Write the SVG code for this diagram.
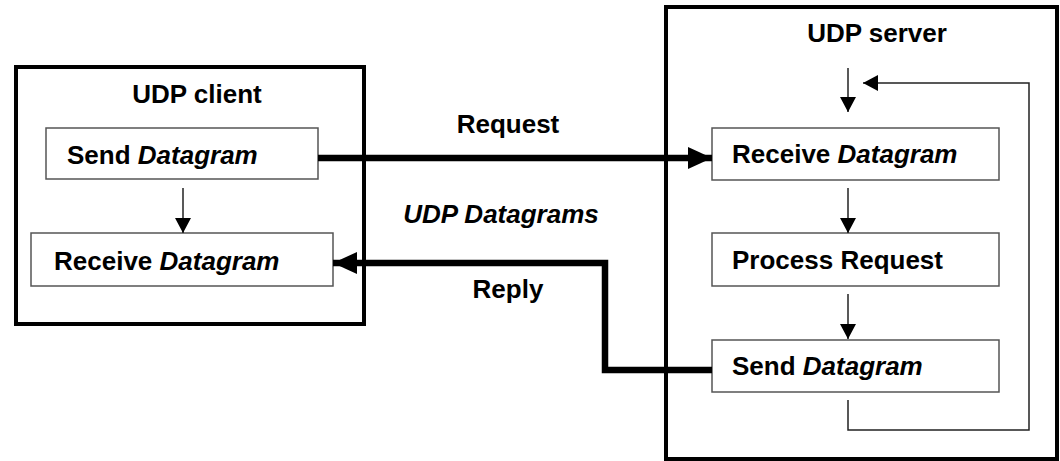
<svg xmlns="http://www.w3.org/2000/svg" width="1060" height="461" viewBox="0 0 1060 461">
<style>
.outer{fill:#fff;stroke:#000;stroke-width:4}
.box{fill:#fff;stroke:#555;stroke-width:1.5}
.t{font-family:"Liberation Sans",Arial,sans-serif;font-weight:bold;font-size:26px;fill:#000}
.i{font-style:italic}
.thin{fill:none;stroke:#222;stroke-width:1.5}
.thick{fill:none;stroke:#000;stroke-width:6.5}
</style>
<defs>
<marker id="ah" markerUnits="userSpaceOnUse" markerWidth="15" markerHeight="16" refX="15" refY="8" orient="auto"><path d="M0,0 L15,8 L0,16 z" fill="#000"/></marker>
<marker id="ahb" markerUnits="userSpaceOnUse" markerWidth="24" markerHeight="22" refX="24" refY="11" orient="auto"><path d="M0,0 L24,11 L0,22 z" fill="#000"/></marker>
</defs>
<rect width="1060" height="461" fill="#fff"/>
<g id="client">
<rect class="outer" x="16" y="67" width="348" height="257"/>
<text class="t" x="197" y="103" text-anchor="middle">UDP client</text>
</g>
<g id="server">
<rect class="outer" x="666" y="7" width="391" height="452"/>
<text class="t" x="877" y="42" text-anchor="middle">UDP server</text>
</g>
<g id="client-send">
<rect class="box" x="46" y="128" width="272" height="51"/>
<text class="t" x="67" y="164">Send <tspan class="i">Datagram</tspan></text>
</g>
<g id="client-receive">
<rect class="box" x="31" y="233" width="302" height="53"/>
<text class="t" x="54" y="270">Receive <tspan class="i">Datagram</tspan></text>
</g>
<g id="server-receive">
<rect class="box" x="712" y="128" width="287" height="52"/>
<text class="t" x="732" y="163">Receive <tspan class="i">Datagram</tspan></text>
</g>
<g id="server-process">
<rect class="box" x="712" y="233" width="287" height="53"/>
<text class="t" x="732" y="269">Process Request</text>
</g>
<g id="server-send">
<rect class="box" x="712" y="340" width="287" height="52"/>
<text class="t" x="732" y="375">Send <tspan class="i">Datagram</tspan></text>
</g>
<g id="labels">
<text class="t" x="508" y="133" text-anchor="middle">Request</text>
<text class="t i" x="501" y="223" text-anchor="middle">UDP Datagrams</text>
<text class="t" x="508" y="298" text-anchor="middle">Reply</text>
</g>
<g id="connectors">
<line class="thin" x1="183" y1="188" x2="183" y2="233" marker-end="url(#ah)"/>
<line class="thin" x1="848" y1="68" x2="848" y2="112" marker-end="url(#ah)"/>
<line class="thin" x1="848" y1="188" x2="848" y2="233" marker-end="url(#ah)"/>
<line class="thin" x1="848" y1="294" x2="848" y2="339" marker-end="url(#ah)"/>
<polyline class="thin" points="848,400 848,430 1029,430 1029,83 863,83" marker-end="url(#ah)"/>
<line class="thick" x1="318" y1="158" x2="712" y2="158" marker-end="url(#ahb)"/>
<polyline class="thick" points="712,370 605,370 605,263 333,263" marker-end="url(#ahb)"/>
</g>
</svg>
